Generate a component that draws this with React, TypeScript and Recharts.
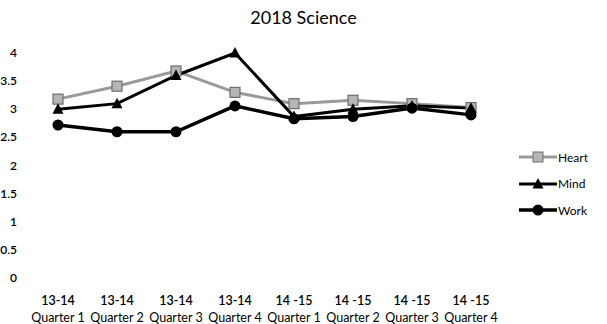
import { LineChart, Line, XAxis, YAxis } from "recharts";

const periods = ["13-14", "13-14", "13-14", "13-14", "14 -15", "14 -15", "14 -15", "14 -15"];
const quarters = ["Quarter 1", "Quarter 2", "Quarter 3", "Quarter 4", "Quarter 1", "Quarter 2", "Quarter 3", "Quarter 4"];
const heart = [3.18, 3.41, 3.68, 3.3, 3.1, 3.16, 3.1, 3.03];
const mind = [3.0, 3.1, 3.6, 4.0, 2.87, 3.0, 3.06, 3.02];
const work = [2.72, 2.6, 2.6, 3.06, 2.83, 2.87, 3.02, 2.9];
const yTicks = [0, 0.5, 1, 1.5, 2, 2.5, 3, 3.5, 4];

const data = periods.map((p, i) => ({
  key: `${p}|${quarters[i]}`,
  Heart: heart[i],
  Mind: mind[i],
  Work: work[i],
}));

const FONT = "Lato, 'Open Sans', sans-serif";

const XTick = (props: any) => {
  const { x, y, payload } = props;
  const [p, q] = String(payload.value).split("|");
  return (
    <g transform={`translate(${x},${y})`}>
      <text textAnchor="middle" y={19} fontSize={12.5} fontFamily={FONT} fontWeight={600} fill="#000">{p}</text>
      <text textAnchor="middle" y={36} fontSize={12.5} fontFamily={FONT} fill="#000">{q}</text>
    </g>
  );
};

const YTick = (props: any) => {
  const { y, payload } = props;
  return (
    <text x={17} y={y + 4} textAnchor="end" fontSize={12} fontFamily={FONT} fontWeight={600} fill="#000">
      {payload.value}
    </text>
  );
};

const SquareDot = (props: any) => {
  const { cx, cy, index } = props;
  return <rect key={`h${index}`} x={cx - 5} y={cy - 5} width={10} height={10} fill="#b5b5b5" stroke="#6e6e6e" strokeWidth={1.2} />;
};

const TriDot = (props: any) => {
  const { cx, cy, index } = props;
  return <path key={`m${index}`} d={`M${cx},${cy - 6} L${cx + 5.5},${cy + 4.5} L${cx - 5.5},${cy + 4.5} Z`} fill="#000" />;
};

const CircleDot = (props: any) => {
  const { cx, cy, index } = props;
  return <circle key={`w${index}`} cx={cx} cy={cy} r={5.5} fill="#000" />;
};

const legendItems = [
  { name: "Heart", color: "#9a9a9a", width: 3, marker: "square" },
  { name: "Mind", color: "#000", width: 3, marker: "tri" },
  { name: "Work", color: "#000", width: 3.5, marker: "circle" },
];

export default function App() {
  return (
    <div style={{ position: "absolute", left: 0, top: 0, width: 607, height: 324, background: "#fff" }}>
      <div
        style={{
          position: "absolute",
          left: 0,
          top: 6,
          width: 607,
          textAlign: "center",
          fontFamily: FONT,
          fontSize: 18,
          color: "#000",
        }}
      >
        2018 Science
      </div>
      <LineChart width={607} height={324} data={data} margin={{ top: 53, right: 107, bottom: 0, left: 0 }}>
        <XAxis
          dataKey="key"
          axisLine={false}
          tickLine={false}
          tick={<XTick />}
          height={46}
          interval={0}
          padding={{ left: 30, right: 29 }}
        />
        <YAxis domain={[0, 4]} ticks={yTicks} interval={0} axisLine={false} tickLine={false} tick={<YTick />} width={28} />
        <Line type="linear" dataKey="Heart" stroke="#9a9a9a" strokeWidth={3} dot={<SquareDot />} isAnimationActive={false} />
        <Line type="linear" dataKey="Mind" stroke="#000" strokeWidth={3} dot={<TriDot />} isAnimationActive={false} />
        <Line type="linear" dataKey="Work" stroke="#000" strokeWidth={3.5} dot={<CircleDot />} isAnimationActive={false} />
      </LineChart>
      <div style={{ position: "absolute", left: 519, top: 144, fontFamily: FONT, fontSize: 12 }}>
        {legendItems.map((it) => (
          <div key={it.name} style={{ display: "flex", alignItems: "center", height: 26.5 }}>
            <svg width={38} height={14}>
              <line x1={0} y1={7} x2={38} y2={7} stroke={it.color} strokeWidth={it.width} />
              {it.marker === "square" && <rect x={14} y={2} width={10} height={10} fill="#b5b5b5" stroke="#6e6e6e" />}
              {it.marker === "tri" && <path d="M19,1 L24.5,11.5 L13.5,11.5 Z" fill="#000" />}
              {it.marker === "circle" && <circle cx={19} cy={7} r={5.5} fill="#000" />}
            </svg>
            <span style={{ marginLeft: 1 }}>{it.name}</span>
          </div>
        ))}
      </div>
    </div>
  );
}
